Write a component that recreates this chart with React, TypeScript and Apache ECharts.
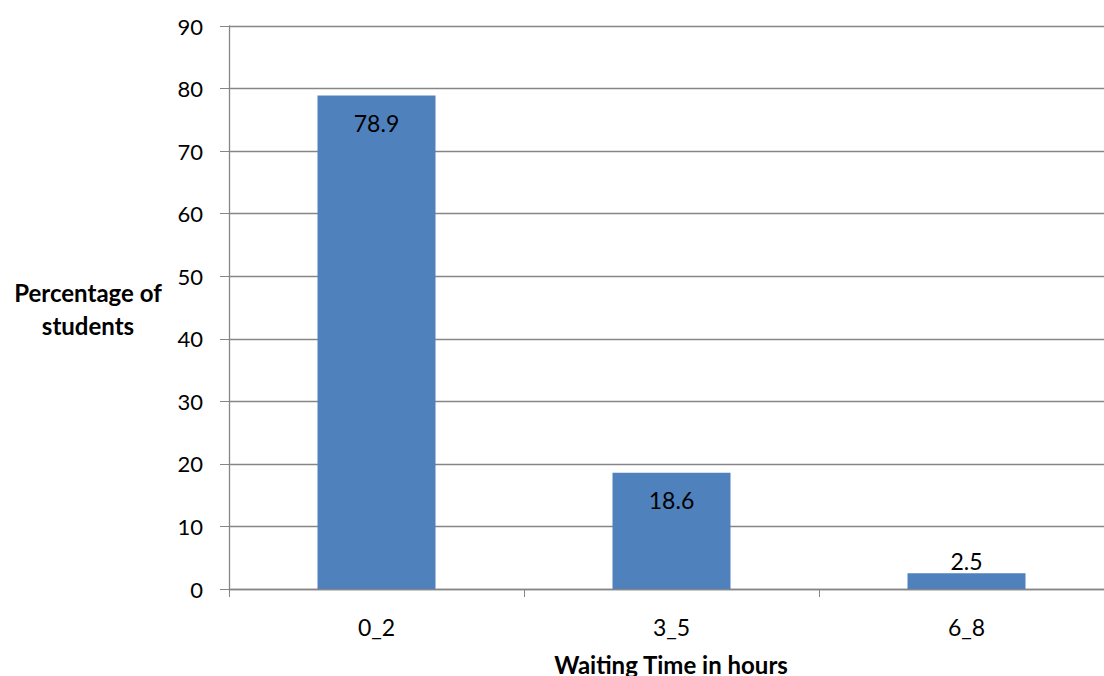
import React, { useEffect, useRef } from "react";
import * as echarts from "echarts";

const categories = ["0_2", "3_5", "6_8"];
const values = [78.9, 18.6, 2.5];
const labelPositions = ["insideTop", "insideTop", "top"];
const yTitle = "Percentage of\nstudents";
const xTitle = "Waiting Time in hours";

export default function App() {
  const ref = useRef<HTMLDivElement>(null);
  useEffect(() => {
    if (!ref.current) return;
    const chart = echarts.init(ref.current, null, { renderer: "svg" });
    const font = "Lato, 'Open Sans', sans-serif";
    chart.setOption({
      animation: false,
      textStyle: { fontFamily: font },
      grid: { left: 229, top: 26, right: 0, bottom: 87, containLabel: false },
      xAxis: {
        type: "category",
        data: categories,
        axisLine: { lineStyle: { color: "#868686", width: 1.3 } },
        axisTick: { show: true, length: 8, alignWithLabel: false, lineStyle: { color: "#868686" } },
        axisLabel: { color: "#000", fontSize: 23, margin: 26, fontFamily: font },
        splitLine: { show: false },
      },
      yAxis: {
        type: "value",
        min: 0,
        max: 90,
        interval: 10,
        axisLine: { show: true, lineStyle: { color: "#868686", width: 1.3 } },
        axisTick: { show: true, inside: false, length: 9, lineStyle: { color: "#868686" } },
        axisLabel: { color: "#000", fontSize: 22, margin: 26, fontFamily: font },
        splitLine: { show: true, lineStyle: { color: "#868686", width: 1.3 } },
      },
      series: [
        {
          type: "bar",
          barWidth: "40%",
          data: values.map((v, i) => ({
            value: v,
            label: { position: labelPositions[i], distance: i === 2 ? 1 : 16 },
          })),
          itemStyle: { color: "#4F81BD" },
          label: {
            show: true,
            color: "#000",
            fontSize: 23,
            fontFamily: font,
          },
        },
      ],
      graphic: [
        {
          type: "text",
          style: {
            text: yTitle,
            x: 88,
            y: 309,
            fill: "#000",
            font: `bold 24px ${font}`,
            textAlign: "center",
            textVerticalAlign: "middle",
            lineHeight: 33,
          },
        },
        {
          type: "text",
          style: {
            text: xTitle,
            x: 671,
            y: 664,
            fill: "#000",
            font: `bold 24px ${font}`,
            textAlign: "center",
            textVerticalAlign: "middle",
          },
        },
      ],
    });
    return () => chart.dispose();
  }, []);
  return (
    <div style={{ width: 1104, height: 676, position: "absolute", left: 0, top: 0, overflow: "hidden" }}>
      <div ref={ref} style={{ width: 1114, height: 676, position: "absolute", left: 0, top: 0 }} />
    </div>
  );
}
